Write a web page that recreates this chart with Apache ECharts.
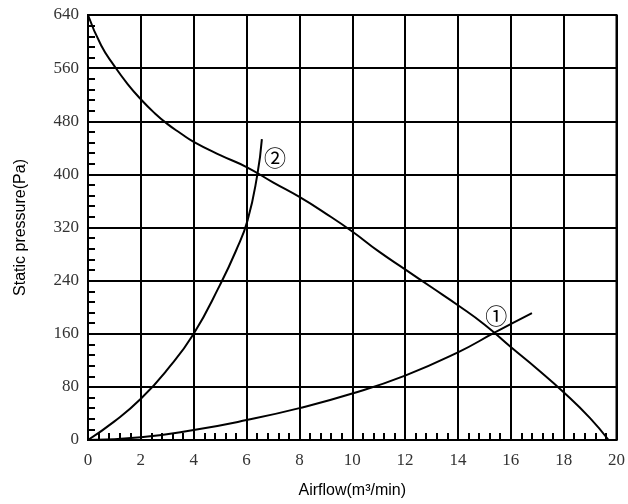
<!DOCTYPE html>
<html><head><meta charset="utf-8">
<script src="https://cdn.jsdelivr.net/npm/echarts@6/dist/echarts.min.js"></script>
<style>html,body{margin:0;padding:0;background:#fff}#c{width:628px;height:504px}</style>
</head><body><div id="c"></div>
<script>
const fanCurve = [[0,640],[0.5,594],[1,563],[1.5,536],[2,513],[2.5,493],[3,476],[3.5,462],[4,449],[5,429],[6,411],[7,388],[8,366],[9,341],[10,314],[11,284],[12,257],[13,230],[14,203],[15,174],[16,140],[17,107],[18,72],[19,33],[19.7,0]];
const system1 = [[0,0],[2,4],[4,15],[6,30],[8,48],[10,70],[12,97],[14,132],[15.4,162],[16.8,191]];
const system2 = [[0,0],[1,28],[2,62],[3,106],[4,160],[5,234],[5.6,285],[6.04,331],[6.41,400],[6.58,453]];
const labels = [{name:'①', coord:[15.45,188]},{name:'②', coord:[7.08,425]}];
const xTicks = {min:0,max:20,interval:2};
const yTicks = {min:0,max:640,interval:80};

const chart = echarts.init(document.getElementById('c'));
const lineStyle = {color:'#000', width:2};
const tick = {show:true,inside:true,length:7,lineStyle:{color:'#000',width:2}};
chart.setOption({
  animation:false,
  grid:{left:88,right:9,top:15,bottom:64,show:true,borderColor:'#000',borderWidth:2},
  xAxis:{type:'value',min:xTicks.min,max:xTicks.max,interval:xTicks.interval,
    name:'Airflow(m³/min)',nameLocation:'middle',nameGap:43,
    nameTextStyle:{fontFamily:'Liberation Sans',fontSize:16,color:'#000'},
    axisLine:{lineStyle:{color:'#000',width:2}},
    axisTick:tick,
    minorTick:{show:true,splitNumber:5,length:7,lineStyle:{color:'#000',width:2}},
    axisLabel:{fontFamily:'Liberation Serif',fontSize:17,color:'#333',margin:12},
    splitLine:{lineStyle:{color:'#000',width:2}}},
  yAxis:{type:'value',min:yTicks.min,max:yTicks.max,interval:yTicks.interval,
    name:'Static pressure(Pa)',nameLocation:'middle',nameGap:59,
    nameTextStyle:{fontFamily:'Liberation Sans',fontSize:16,color:'#000'},
    axisLine:{show:true,lineStyle:{color:'#000',width:2}},
    axisTick:tick,
    minorTick:{show:true,splitNumber:5,length:7,lineStyle:{color:'#000',width:2}},
    axisLabel:{fontFamily:'Liberation Serif',fontSize:17,color:'#333',margin:9},
    splitLine:{lineStyle:{color:'#000',width:2}}},
  series:[
    {type:'line',data:fanCurve,smooth:0.5,showSymbol:false,lineStyle},
    {type:'line',data:system1,smooth:0.5,showSymbol:false,lineStyle,
      markPoint:{symbol:'circle',symbolSize:1,itemStyle:{color:'transparent'},
        label:{show:true,formatter:'{b}',fontFamily:'Noto Sans CJK SC',fontSize:22,color:'#000'},
        data:labels}},
    {type:'line',data:system2,smooth:0.5,showSymbol:false,lineStyle}
  ]
});
</script></body></html>
